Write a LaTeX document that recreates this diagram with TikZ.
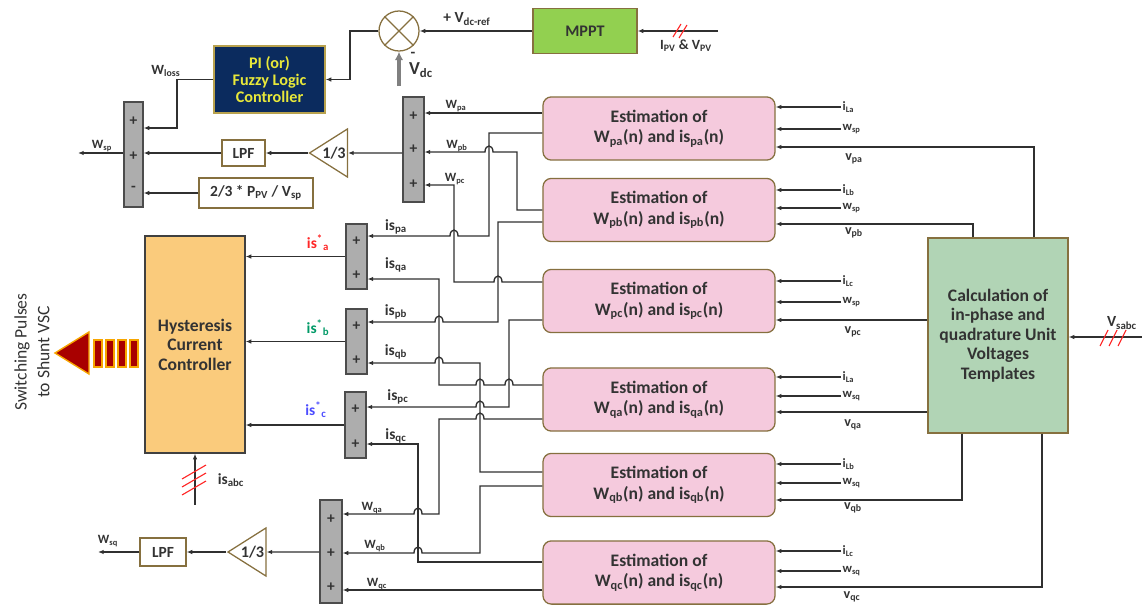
\documentclass[tikz,border=0pt]{standalone}
\usepackage{fontspec}
\setmainfont{Carlito}
\usepackage{tikz}
\usetikzlibrary{shapes.geometric, arrows.meta, positioning}

\definecolor{estpink}{HTML}{F5CADD}
\definecolor{calcgreen}{HTML}{B1D4B5}
\definecolor{hystorange}{HTML}{FACB7C}
\definecolor{mpptgreen}{HTML}{92D050}
\definecolor{pinavy}{HTML}{0B2B5E}
\definecolor{piyellow}{HTML}{E8E83A}
\definecolor{pigold}{HTML}{B8A24E}
\definecolor{boxedge}{HTML}{86703F}
\definecolor{sumgray}{HTML}{ADADAD}
\definecolor{wirec}{HTML}{303030}
\definecolor{txt}{HTML}{333333}
\definecolor{pulsered}{HTML}{A80000}
\definecolor{pulseedge}{HTML}{F7A600}

% small bump where a wire crosses another one (wire runs right to left)
\newcommand{\hopl}[2]{-- ({#1+4},#2) .. controls ({#1+4},{#2-8}) and ({#1-4},{#2-8}) .. ({#1-4},#2)}

\begin{document}
\begin{tikzpicture}[
    x=0.025cm, y=-0.025cm,
    est/.style={rectangle, draw=boxedge, fill=estpink, line width=0.9pt,
                rounded corners=6pt, minimum width=5.8cm, minimum height=1.58cm,
                align=center, text=txt, font=\fontsize{12.5}{14.7}\selectfont\bfseries},
    bigbox/.style={rectangle, draw=boxedge, line width=0.9pt, align=center,
                   text=txt, font=\fontsize{12.5}{13.8}\selectfont\bfseries},
    sumbar/.style={rectangle, draw=black!70, fill=sumgray, line width=0.9pt,
                   minimum width=0.52cm, inner sep=0pt},
    sgn/.style={inner sep=0pt, text=black!80, font=\fontsize{11}{11}\selectfont\bfseries},
    filt/.style={rectangle, draw=boxedge, fill=white, line width=0.9pt, inner sep=0pt,
                 text=txt, font=\fontsize{11}{13}\selectfont\bfseries},
    gain/.style={isosceles triangle, isosceles triangle stretches, shape border rotate=180,
                 draw=boxedge, fill=white, line width=0.9pt, minimum width=1.2cm,
                 minimum height=0.83cm, inner sep=0pt, text=txt,
                 font=\fontsize{11.5}{12}\selectfont\bfseries},
    lbl/.style={inner sep=1pt, text=txt, font=\fontsize{9}{10}\selectfont\bfseries},
    biglbl/.style={inner sep=1pt, text=txt, font=\fontsize{11}{12}\selectfont\bfseries},
    arrow/.style={-{Latex[length=4pt,width=3.2pt]}, line width=0.95pt, draw=wirec},
    slash/.style={draw=red!85, line width=0.8pt},
]
\useasboundingbox (0,0) rectangle (1142,605);

% Estimation blocks
\node[est] (E1) at (659,128.5) {Estimation of\\W\textsubscript{pa}(n) and is\textsubscript{pa}(n)};
\node[est] (E2) at (659,210) {Estimation of\\W\textsubscript{pb}(n) and is\textsubscript{pb}(n)};
\node[est] (E3) at (659,301) {Estimation of\\W\textsubscript{pc}(n) and is\textsubscript{pc}(n)};
\node[est] (E4) at (659,399.5) {Estimation of\\W\textsubscript{qa}(n) and is\textsubscript{qa}(n)};
\node[est] (E5) at (659,485) {Estimation of\\W\textsubscript{qb}(n) and is\textsubscript{qb}(n)};
\node[est] (E6) at (659,572.5) {Estimation of\\W\textsubscript{qc}(n) and is\textsubscript{qc}(n)};

% Unit templates and current controller
\node[bigbox, fill=calcgreen, minimum width=3.5cm, minimum height=4.875cm] (calc) at (998,335.5)
    {Calculation of\\in-phase and\\quadrature Unit\\Voltages\\Templates};
\node[bigbox, draw=black!75, fill=hystorange, minimum width=2.5cm, minimum height=5.425cm] (hyst) at (195,344.5)
    {Hysteresis\\Current\\Controller};

% DC link loop
\node[bigbox, fill=mpptgreen, minimum width=2.6cm, minimum height=1.125cm,
      font=\fontsize{11.5}{12}\selectfont\bfseries] (mppt) at (585,31) {MPPT};
\node[bigbox, draw=pigold, fill=pinavy, text=piyellow, minimum width=2.775cm, minimum height=1.675cm,
      font=\fontsize{11.5}{12.4}\selectfont\bfseries] (pi) at (269.5,79.5) {PI (or)\\Fuzzy Logic\\Controller};
\node[circle, draw=boxedge, fill=white, line width=0.9pt, minimum size=1.0cm, inner sep=0pt] (circ) at (399,31) {};
\draw[draw=boxedge, line width=0.9pt] (circ.north west) -- (circ.south east) (circ.north east) -- (circ.south west);

% Summers
\node[sumbar, minimum width=0.475cm, minimum height=2.625cm] (sum1) at (133.5,154.5) {};
\node[sumbar, minimum height=2.625cm] (sum2) at (413.5,149.5) {};
\node[sumbar, minimum height=1.625cm] (sum3) at (356.5,256.5) {};
\node[sumbar, minimum height=1.625cm] (sum4) at (356.5,341.5) {};
\node[sumbar, minimum height=1.65cm] (sum5) at (355.5,425) {};
\node[sumbar, minimum width=0.55cm, minimum height=2.575cm] (sum6) at (331,551.5) {};

\node[sgn] (s1a) at (sum1 |- 0,121) {+};
\node[sgn] (s1b) at (sum1 |- 0,156) {+};
\node[sgn] (s1c) at (sum1 |- 0,189) {-};
\node[sgn] (s2a) at (sum2 |- 0,116) {+};
\node[sgn] (s2b) at (sum2 |- 0,149) {+};
\node[sgn] (s2c) at (sum2 |- 0,184) {+};
\node[sgn] (s3a) at (sum3 |- 0,241) {+};
\node[sgn] (s3b) at (sum3 |- 0,275) {+};
\node[sgn] (s4a) at (sum4 |- 0,326) {+};
\node[sgn] (s4b) at (sum4 |- 0,360) {+};
\node[sgn] (s5a) at (sum5 |- 0,409) {+};
\node[sgn] (s5b) at (sum5 |- 0,444) {+};
\node[sgn] (s6a) at (sum6 |- 0,519) {+};
\node[sgn] (s6b) at (sum6 |- 0,553) {+};
\node[sgn] (s6c) at (sum6 |- 0,587) {+};

% Filters and gains
\node[filt, minimum width=1.075cm, minimum height=0.65cm] (lpf1) at (243.5,153) {LPF};
\node[filt, minimum width=2.85cm, minimum height=0.75cm] (pvbox) at (256,193) {2/3 * P\textsubscript{PV} / V\textsubscript{sp}};
\node[gain] (gain1) at (334,153) {1/3};
\node[gain] (gain2) at (252.5,552) {1/3};
\node[filt, minimum width=1.15cm, minimum height=0.7cm] (lpf2) at (163,552) {LPF};

% Free ends
\coordinate (pvin) at (718,31);
\coordinate (vdcin) at (399,86);
\coordinate (wspend) at (78,153);
\coordinate (wsqend) at (98,552);
\coordinate (isin) at (194,504);
\coordinate (vsin) at (1142,337);

% DC link wiring
\draw[arrow] (pvin) -- (mppt.east);
\draw[slash] (673,37) -- (681,24) (679,38) -- (687,25);
\draw[arrow] (mppt.west) -- (circ.east);
\draw[-{Latex[length=6pt,width=6pt]}, line width=2.4pt, draw=black!50] (vdcin) -- (circ.south);
\draw[arrow] (circ.west) -| (350,0 |- pi.east) -- (pi.east);
\draw[arrow] (pi.west) -| (177,128) -- (sum1.east |- 0,128);
\draw[arrow] (sum2.west |- gain1) -- (gain1.east);
\draw[arrow] (gain1.apex) -- (lpf1.east);
\draw[arrow] (lpf1.west) -- (sum1.east |- lpf1);
\draw[arrow] (pvbox.west) -- (sum1.east |- pvbox);
\draw[arrow] (sum1.west |- lpf1) -- (wspend);

\node[biglbl] (vref) at (467,19) {+ V\textsubscript{dc-ref}};
\node[lbl, font=\fontsize{10}{11}\selectfont\bfseries] (ipv) at (686,46) {I\textsubscript{PV} \& V\textsubscript{PV}};
\node[biglbl] (minus) at (413,55) {-};
\node[biglbl, font=\fontsize{13}{14}\selectfont\bfseries] (vdc) at (421,70) {V\textsubscript{dc}};
\node[lbl, font=\fontsize{10}{11}\selectfont\bfseries] (wloss) at (166,71) {W\textsubscript{loss}};
\node[lbl] (wsp) at (102,146) {W\textsubscript{sp}};

% Active parts to summer 2
\draw[arrow] (E1.west |- 0,113) -- (sum2.east |- 0,113);
\draw[arrow] (E2.west |- 0,210) -| (517,152) \hopl{489}{152} -- (sum2.east |- 0,152);
\draw[arrow] (E3.west |- 0,282) \hopl{498}{282} -| (454,185) -- (sum2.east |- 0,185);
\node[lbl] (wpa) at (456,106) {W\textsubscript{pa}};
\node[lbl] (wpb) at (457,146) {W\textsubscript{pb}};
\node[lbl] (wpc) at (455,179) {W\textsubscript{pc}};

% Reference currents to summers 3-5
\draw[arrow] (E1.west |- 0,133) -| (489,236) \hopl{454}{236} -- (sum3.east |- 0,236);
\draw[arrow] (E4.west |- 0,385) \hopl{509}{385} \hopl{480}{385} -| (439,279) -- (sum3.east |- 0,279);
\draw[arrow] (E2.west |- 0,222) -| (498,322) \hopl{439}{322} -- (sum4.east |- 0,322);
\draw[arrow] (E5.west |- 0,472) -| (480,363) \hopl{439}{363} -- (sum4.east |- 0,363);
\draw[arrow] (E3.west |- 0,320) -| (509,407) \hopl{480}{407} -- (sum5.east |- 0,407);
\draw[arrow] (E6.west |- 0,562) -| (418,444) -- (sum5.east |- 0,444);
\node[biglbl] (ispa) at (396,227) {is\textsubscript{pa}};
\node[biglbl] (isqa) at (396,265) {is\textsubscript{qa}};
\node[biglbl] (ispb) at (396,312) {is\textsubscript{pb}};
\node[biglbl] (isqb) at (396,352) {is\textsubscript{qb}};
\node[biglbl] (ispc) at (398,397) {is\textsubscript{pc}};
\node[biglbl] (isqc) at (396,436) {is\textsubscript{qc}};

% Summers 3-5 to controller
\draw[arrow] (sum3.west) -- (hyst.east |- sum3.west);
\draw[arrow] (sum4.west) -- (hyst.east |- sum4.west);
\draw[arrow] (sum5.west) -- (hyst.east |- sum5.west);
\node[biglbl, text=red!85] (isa) at (318,243) {is\textsuperscript{*}\textsubscript{a}};
\node[biglbl, text=teal!80!green] (isb) at (318,328) {is\textsuperscript{*}\textsubscript{b}};
\node[biglbl, text=blue!70] (isc) at (316,410) {is\textsuperscript{*}\textsubscript{c}};

% Sensed currents
\draw[arrow] (isin) -- (hyst.south |- isin) -- (hyst.south);
\draw[slash] (182,479) -- (206,465) (182,487) -- (206,473) (182,495) -- (206,481);
\node[biglbl] (isabc) at (231,480) {is\textsubscript{abc}};

% Reactive parts to summer 6
\draw[arrow] (E4.west |- 0,419) \hopl{480}{419} -| (439,514) \hopl{418}{514} -- (sum6.east |- 0,514);
\draw[arrow] (E5.west |- 0,486) -| (480,553) \hopl{418}{553} -- (sum6.east |- 0,553);
\draw[arrow] (E6.west |- 0,590) -- (sum6.east |- 0,590);
\draw[arrow] (sum6.west |- gain2) -- (gain2.east);
\draw[arrow] (gain2.apex) -- (lpf2.east);
\draw[arrow] (lpf2.west) -- (wsqend);
\node[lbl] (wqa) at (372,508) {W\textsubscript{qa}};
\node[lbl] (wqb) at (375,546) {W\textsubscript{qb}};
\node[lbl] (wqc) at (377,584) {W\textsubscript{qc}};
\node[lbl] (wsq) at (108,541) {W\textsubscript{sq}};

% Switching pulses
\draw[fill=pulsered, draw=pulseedge, line width=1pt] (55,353) -- (89,332) -- (89,374) -- cycle;
\draw[fill=pulsered, draw=pulseedge, line width=1pt] (94,340) rectangle (102,367);
\draw[fill=pulsered, draw=pulseedge, line width=1pt] (106,340) rectangle (114,367);
\draw[fill=pulsered, draw=pulseedge, line width=1pt] (118,340) rectangle (126,367);
\draw[fill=pulsered, draw=pulseedge, line width=1pt] (130,340) rectangle (138,367);
\node[rotate=90, align=center, text=txt, font=\fontsize{12.5}{16.3}\selectfont] (swtxt) at (32,352)
    {Switching Pulses\\to Shunt VSC};

% Load currents and weights into the estimators
\node[lbl, anchor=west] (il1) at (841,107) {i\textsubscript{La}};
\node[lbl, anchor=west] (w1) at (841,129) {w\textsubscript{sp}};
\node[lbl, anchor=west] (il2) at (841,190) {i\textsubscript{Lb}};
\node[lbl, anchor=west] (w2) at (841,208) {w\textsubscript{sp}};
\node[lbl, anchor=west] (il3) at (841,281) {i\textsubscript{Lc}};
\node[lbl, anchor=west] (w3) at (841,302) {w\textsubscript{sp}};
\node[lbl, anchor=west] (il4) at (841,377) {i\textsubscript{La}};
\node[lbl, anchor=west] (w4) at (841,396) {w\textsubscript{sq}};
\node[lbl, anchor=west] (il5) at (841,464) {i\textsubscript{Lb}};
\node[lbl, anchor=west] (w5) at (841,483) {w\textsubscript{sq}};
\node[lbl, anchor=west] (il6) at (841,551) {i\textsubscript{Lc}};
\node[lbl, anchor=west] (w6) at (841,571) {w\textsubscript{sq}};
\draw[arrow] (il1.west) -- (E1.east |- il1.west);
\draw[arrow] (w1.west) -- (E1.east |- w1.west);
\draw[arrow] (il2.west) -- (E2.east |- il2.west);
\draw[arrow] (w2.west) -- (E2.east |- w2.west);
\draw[arrow] (il3.west) -- (E3.east |- il3.west);
\draw[arrow] (w3.west) -- (E3.east |- w3.west);
\draw[arrow] (il4.west) -- (E4.east |- il4.west);
\draw[arrow] (w4.west) -- (E4.east |- w4.west);
\draw[arrow] (il5.west) -- (E5.east |- il5.west);
\draw[arrow] (w5.west) -- (E5.east |- w5.west);
\draw[arrow] (il6.west) -- (E6.east |- il6.west);
\draw[arrow] (w6.west) -- (E6.east |- w6.west);

% Unit templates into the estimators
\draw[arrow] (calc.north -| 1034,0) |- (E1.east |- 0,147);
\draw[arrow] (calc.north -| 973,0) |- (E2.east |- 0,224);
\draw[arrow] (calc.west |- 0,320) -- (E3.east |- 0,320);
\draw[arrow] (calc.west |- 0,412) -- (E4.east |- 0,412);
\draw[arrow] (calc.south -| 962,0) |- (E5.east |- 0,500);
\draw[arrow] (calc.south -| 1042,0) |- (E6.east |- 0,587);
\node[lbl, font=\fontsize{10}{11}\selectfont\bfseries] (vpa) at (854,159) {v\textsubscript{pa}};
\node[lbl, font=\fontsize{10}{11}\selectfont\bfseries] (vpb) at (854,233) {v\textsubscript{pb}};
\node[lbl, font=\fontsize{10}{11}\selectfont\bfseries] (vpc) at (853,332) {v\textsubscript{pc}};
\node[lbl, font=\fontsize{10}{11}\selectfont\bfseries] (vqa) at (853,425) {v\textsubscript{qa}};
\node[lbl, font=\fontsize{10}{11}\selectfont\bfseries] (vqb) at (853,508) {v\textsubscript{qb}};
\node[lbl, font=\fontsize{10}{11}\selectfont\bfseries] (vqc) at (852,597) {v\textsubscript{qc}};

% Source voltages
\draw[arrow] (vsin) -- (calc.east |- vsin);
\draw[slash] (1100,346) -- (1108,330) (1109,346) -- (1117,330) (1118,346) -- (1126,330);
\node[biglbl] (vsabc) at (1122,323) {V\textsubscript{sabc}};

\end{tikzpicture}
\end{document}
